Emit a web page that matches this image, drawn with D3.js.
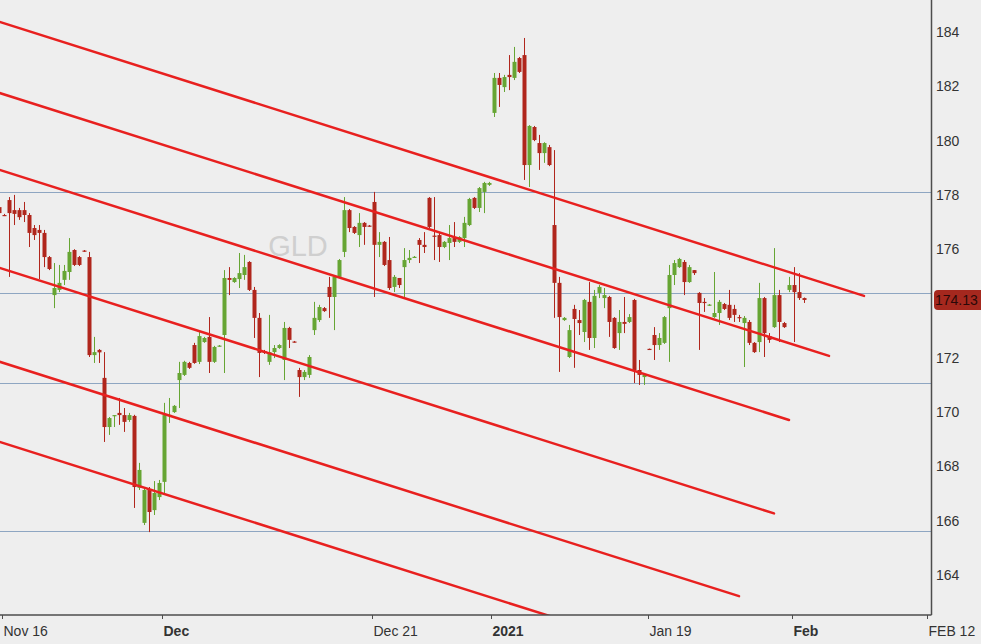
<!DOCTYPE html>
<html><head><meta charset="utf-8">
<script src="https://cdn.jsdelivr.net/npm/d3@7"></script>
<style>
html,body{margin:0;padding:0;background:#eeeeee;}
svg{display:block;font-family:"Liberation Sans",Arial,sans-serif;}
</style>
</head><body>
<svg id="chart" width="981" height="644"></svg>
<script>
// ---- data ----
const firstBar = -1;
const opens = [177.55,177.26,177.81,177.44,177.44,177.44,177.26,176.78,176.71,176.60,175.71,174.31,174.50,174.87,175.16,175.97,175.71,175.95,175.71,172.10,172.29,171.26,169.45,169.86,169.97,169.89,169.71,169.86,167.21,165.92,167.17,166.39,166.87,167.43,169.86,170.00,171.18,171.37,171.81,172.47,171.85,172.58,172.77,171.85,172.43,172.84,174.94,174.79,174.90,175.05,175.53,174.50,173.47,172.25,171.85,172.21,172.36,171.92,173.10,172.60,171.55,171.29,171.37,173.02,173.39,173.83,174.61,174.24,174.98,175.90,177.44,176.82,176.52,176.97,176.87,177.74,176.16,176.27,175.60,174.61,174.94,175.34,175.60,175.70,176.34,176.16,177.89,176.50,176.52,176.08,176.23,176.41,176.27,176.41,176.89,177.89,177.52,178.11,178.37,181.02,182.31,181.97,182.42,182.31,183.04,183.15,179.10,180.50,179.91,179.54,179.76,176.89,174.76,173.39,172.03,173.80,173.39,172.95,174.06,172.73,174.39,174.20,174.24,173.47,172.91,173.32,173.32,174.13,171.55,171.29,172.33,172.84,172.47,172.55,173.83,175.05,175.34,175.53,174.79,175.23,174.39,174.06,173.93,173.50,173.65,173.98,173.95,173.80,173.50,173.28,173.32,172.55,172.58,174.20,172.80,173.13,174.31,173.28,174.50,174.68,174.42,174.20];
const highs = [177.81,177.30,177.92,178.00,177.52,177.74,177.33,176.89,176.89,176.71,175.75,175.49,175.42,175.42,176.41,176.00,175.75,175.97,175.90,172.77,172.32,172.21,169.82,169.89,170.52,170.15,169.97,169.90,168.13,167.21,167.24,167.46,167.50,170.34,170.52,170.26,171.85,171.89,171.85,172.55,172.95,172.77,173.50,172.44,172.47,175.23,175.34,174.97,175.86,175.79,175.56,174.61,173.65,172.29,173.58,172.47,172.50,173.32,173.14,172.62,171.63,171.55,172.10,174.06,173.95,173.87,174.98,175.01,175.64,177.92,177.48,176.85,177.33,177.00,176.89,178.11,176.63,176.30,176.45,175.05,174.94,176.04,175.97,175.75,176.41,176.63,177.92,177.92,176.63,176.30,176.89,177.00,176.48,177.19,177.89,177.92,178.29,178.48,178.48,182.49,182.49,182.42,183.15,183.45,183.08,183.78,180.57,180.54,180.21,179.94,179.84,179.65,174.98,173.50,173.21,173.95,173.76,174.17,174.79,174.50,174.68,174.57,174.28,173.50,173.76,174.24,173.61,174.17,171.92,171.44,172.34,173.13,172.91,173.54,175.42,175.60,175.68,175.60,175.42,175.23,174.42,174.20,173.98,175.16,174.13,174.02,174.50,173.95,173.58,173.54,173.39,172.58,174.76,174.24,172.91,176.04,174.50,173.32,174.98,175.34,175.12,174.22];
const lows = [177.22,177.22,174.98,176.89,177.08,177.00,176.08,176.34,174.90,175.34,175.23,173.83,174.42,174.68,174.87,175.38,175.38,175.90,172.03,171.81,171.81,168.90,169.16,169.45,169.53,169.27,169.64,166.47,167.13,165.84,165.58,166.21,166.76,167.02,169.60,169.97,170.15,171.33,171.59,171.78,171.77,172.55,171.44,171.81,172.41,171.44,174.31,174.76,174.57,174.87,174.46,172.73,171.29,172.14,171.74,171.99,172.33,171.18,172.36,172.56,170.56,171.18,171.26,172.84,173.32,173.69,173.47,173.02,174.94,175.71,176.63,176.56,176.08,176.16,176.83,174.24,175.71,175.38,174.50,174.42,174.57,174.20,175.49,175.68,175.49,175.86,176.78,175.60,175.53,176.04,175.60,176.08,176.23,176.08,176.85,177.48,177.37,177.33,178.33,180.87,181.24,181.79,181.86,182.23,182.49,178.55,178.29,179.98,178.92,179.18,179.06,173.47,171.48,173.36,171.99,171.63,172.84,172.58,172.29,172.36,174.20,173.83,172.77,172.33,172.29,172.91,173.28,171.07,171.00,171.00,172.29,171.92,172.29,172.51,171.85,174.68,175.31,174.31,174.76,175.05,172.29,173.69,173.91,173.47,173.21,173.76,173.39,173.32,173.32,171.66,172.47,172.18,172.21,172.03,172.55,173.10,172.58,173.10,174.42,172.58,174.13,174.02];
const closes = [177.33,177.25,177.33,177.30,177.18,177.26,176.60,176.52,176.60,175.71,175.27,174.57,174.76,175.20,175.90,175.42,175.42,175.92,172.10,172.21,172.20,169.45,169.78,169.89,169.89,169.64,169.89,167.24,167.87,167.13,166.32,167.02,167.39,169.89,169.90,170.23,171.44,171.85,171.63,171.81,172.80,172.73,171.85,172.40,172.45,174.94,174.87,174.94,175.12,175.34,174.50,173.47,172.18,172.18,172.21,172.36,172.47,173.10,172.66,172.58,171.29,171.48,172.03,173.47,173.87,173.72,174.24,174.98,175.60,177.44,176.78,176.60,176.97,176.82,176.85,176.16,176.27,175.42,174.57,174.98,174.68,175.60,175.68,175.72,176.16,176.08,176.82,176.48,176.08,176.27,176.41,176.27,176.45,176.97,177.85,177.52,178.25,178.44,178.44,182.31,182.05,182.34,182.34,182.90,182.53,179.10,180.54,180.02,179.54,179.91,179.10,174.76,173.50,173.47,173.02,173.43,173.28,174.13,172.73,174.28,174.61,174.31,173.32,172.36,173.32,173.25,173.50,171.55,171.37,171.37,172.31,172.47,172.73,173.50,175.05,175.49,175.64,174.79,175.34,175.12,174.02,174.02,173.96,173.65,174.06,173.80,173.47,173.58,173.47,173.47,172.55,172.21,174.20,172.91,172.66,174.31,173.32,173.13,174.68,174.42,174.20,174.13];

const xTickLabels = ["Nov 16","Dec","Dec 21","2021","Jan 19","Feb","FEB 12"];
const xTickBars   = [-0.46, 31.6, 73.6, 97.5, 128.7, 157.66, 184.6];
const xTickBold   = [false, true, false, true, false, true, false];
const yTickValues = [164,166,168,170,172,174,176,178,180,182,184];
const levelPrices = [178.11, 174.40, 171.07, 165.62];
const chanStartBar   = [-1,-1,-1,-1,-1,-1];
const chanStartPrice = [184.38,181.76,178.93,175.32,171.86,168.91];
const chanEndBar     = [172,165,157,154,147,140];
const chanEndPrice   = [174.28,172.07,169.71,166.27,163.22,160.69];
const lastPrice = 174.13;
const symbol = "GLD";

// ---- drawing ----
const W = 981, H = 644;
const plotR = 931.5, plotB = 615;
const x = d3.scaleLinear().domain([0, 186]).range([4, 934]);
const y = d3.scaleLinear().domain([164, 184]).range([575, 32]);

const svg = d3.select("#chart");
svg.append("rect").attr("width", W).attr("height", H).attr("fill", "#eeeeee");

svg.append("defs").append("clipPath").attr("id", "plotclip")
  .append("rect").attr("x", 0).attr("y", 0).attr("width", plotR).attr("height", plotB);

const plot = svg.append("g").attr("clip-path", "url(#plotclip)");

// watermark
plot.append("text").attr("x", 298).attr("y", 256).attr("text-anchor", "middle")
  .attr("font-size", 29).attr("fill", "#cfcfcf").text(symbol);

// horizontal levels
plot.selectAll("line.level").data(levelPrices).join("line")
  .attr("class", "level")
  .attr("x1", 0).attr("x2", plotR)
  .attr("y1", d => Math.round(y(d)) + 0.5).attr("y2", d => Math.round(y(d)) + 0.5)
  .attr("stroke", "#8ea6c2").attr("stroke-width", 1);

// candles
const bars = opens.map((o, i) => ({ i: firstBar + i, o, h: highs[i], l: lows[i], c: closes[i] }));
const up = "#66a533", down = "#b0261c";
const cg = plot.append("g");
cg.selectAll("line.wick").data(bars).join("line")
  .attr("class", "wick")
  .attr("x1", d => Math.round(x(d.i)) + 0.5).attr("x2", d => Math.round(x(d.i)) + 0.5)
  .attr("y1", d => y(d.h)).attr("y2", d => y(d.l))
  .attr("stroke", d => d.c >= d.o ? up : down).attr("stroke-width", 1);
cg.selectAll("rect.body").data(bars).join("rect")
  .attr("class", "body")
  .attr("x", d => Math.round(x(d.i)) - 1.5)
  .attr("width", 4)
  .attr("y", d => y(Math.max(d.o, d.c)))
  .attr("height", d => Math.max(1.2, Math.abs(y(d.o) - y(d.c))))
  .attr("fill", d => d.c >= d.o ? up : down);

// channel lines
const chan = chanStartBar.map((b, k) => ({ x1: b, y1: chanStartPrice[k], x2: chanEndBar[k], y2: chanEndPrice[k] }));
plot.selectAll("line.chan").data(chan).join("line")
  .attr("class", "chan")
  .attr("x1", d => x(d.x1)).attr("y1", d => y(d.y1))
  .attr("x2", d => x(d.x2)).attr("y2", d => y(d.y2))
  .attr("stroke", "#e8201f").attr("stroke-width", 2.5).attr("stroke-linecap", "round");

// axes frame
svg.append("line").attr("x1", 0).attr("x2", plotR).attr("y1", plotB).attr("y2", plotB)
  .attr("stroke", "#4d4d4d").attr("stroke-width", 1.5);
svg.append("line").attr("x1", plotR).attr("x2", plotR).attr("y1", 0).attr("y2", plotB)
  .attr("stroke", "#4d4d4d").attr("stroke-width", 1.5);

// x ticks
const xt = svg.selectAll("g.xt").data(xTickLabels).join("g").attr("class", "xt")
  .attr("transform", (d, k) => `translate(${Math.round(x(xTickBars[k])) + 0.5},0)`);
xt.append("line").attr("y1", plotB).attr("y2", plotB + 4).attr("stroke", "#4d4d4d").attr("stroke-width", 1);
xt.append("text").attr("x", 1).attr("y", 636).attr("font-size", 14).attr("fill", "#333")
  .attr("font-weight", (d, k) => xTickBold[k] ? "bold" : "normal").text(d => d);

// y tick labels (the one hidden under the last-price tag is not drawn)
const tagY = y(lastPrice);
svg.selectAll("text.yt").data(yTickValues.filter(v => Math.abs(y(v) - tagY) > 12)).join("text").attr("class", "yt")
  .attr("x", 936).attr("y", d => y(d)).attr("dy", "0.35em")
  .attr("font-size", 14).attr("fill", "#333").text(d => d);

// last price tag
svg.append("rect").attr("x", 934).attr("y", tagY - 10).attr("width", 52).attr("height", 20)
  .attr("rx", 4).attr("fill", "#a5281e");
svg.append("text").attr("x", 935).attr("y", tagY).attr("dy", "0.35em")
  .attr("font-size", 14).attr("fill", "#2a0808").text(lastPrice.toFixed(2));
</script>
</body></html>
